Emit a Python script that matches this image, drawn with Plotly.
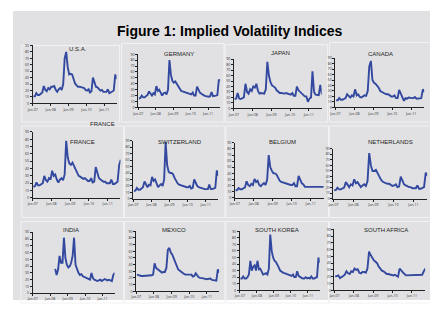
import plotly.graph_objects as go

# page body adds an 8px margin; figure sized to fit the 438x309 window
OFF = 8
W, H = 430, 301

# Monthly dates Jan-2007 .. Sep-2011
dates = [f"{y}-{m:02d}-15" for y in range(2007, 2012) for m in range(1, 13)][:57]

usa = [11, 11, 16, 13, 13, 15, 17, 27, 21, 19, 24, 22,
       26, 26, 27, 21, 18, 22, 24, 21, 30, 70, 80, 57,
       45, 46, 45, 38, 31, 28, 26, 26, 25, 25, 24, 21,
       20, 22, 17, 19, 40, 33, 26, 25, 23, 20, 21, 18,
       18, 18, 22, 16, 17, 18, 20, 45, 38]
germany = [15, 16, 20, 17, 17, 19, 21, 27, 22, 20, 24, 22,
           36, 28, 30, 23, 20, 24, 25, 22, 30, 80, 55, 45,
           42, 44, 40, 35, 30, 28, 27, 26, 25, 25, 24, 22,
           22, 25, 20, 20, 35, 30, 25, 23, 21, 20, 19, 18,
           18, 19, 26, 19, 19, 20, 21, 47, 45]
japan = [17, 18, 28, 18, 17, 18, 20, 45, 30, 27, 35, 32,
         40, 38, 45, 32, 27, 28, 28, 27, 35, 85, 60, 48,
         42, 40, 38, 33, 30, 28, 28, 27, 27, 28, 27, 25,
         25, 28, 23, 23, 40, 33, 30, 27, 25, 22, 22, 12,
         18, 20, 68, 30, 25, 24, 24, 43, 25]
canada = [13, 13, 17, 14, 14, 15, 17, 24, 20, 18, 22, 20,
          33, 22, 24, 19, 18, 20, 22, 21, 30, 75, 85, 50,
          45, 43, 40, 36, 30, 28, 27, 25, 24, 24, 22, 20,
          20, 22, 17, 17, 32, 25, 18, 12, 17, 16, 18, 17,
          17, 17, 19, 16, 16, 17, 17, 33, 28]
france = [15, 16, 21, 17, 17, 18, 20, 30, 24, 22, 27, 25,
          37, 30, 32, 25, 21, 25, 27, 24, 32, 78, 55, 47,
          45, 48, 44, 38, 33, 30, 29, 28, 26, 27, 25, 23,
          23, 27, 21, 22, 42, 33, 27, 25, 23, 22, 22, 20,
          20, 20, 25, 19, 19, 21, 22, 45, 52]
switzerland = [12, 13, 17, 14, 14, 16, 18, 27, 21, 18, 22, 21,
               34, 28, 30, 22, 18, 21, 23, 20, 30, 88, 52, 42,
               40, 40, 38, 32, 27, 24, 22, 21, 20, 20, 19, 18,
               18, 20, 16, 17, 30, 24, 20, 18, 17, 16, 16, 15,
               15, 15, 22, 15, 15, 16, 17, 44, 36]
belgium = [12, 13, 16, 14, 14, 15, 17, 27, 21, 19, 23, 21,
           31, 26, 28, 21, 19, 22, 24, 21, 30, 70, 50, 44,
           40, 40, 38, 33, 28, 26, 25, 24, 23, 23, 22, 21,
           21, 24, 19, 19, 36, 28, 24, 22, 18, 18, 18, 18,
           18, 18, 18, 18, 18, 18, 18, 18, 18]
netherlands = [15, 16, 20, 17, 17, 18, 20, 30, 24, 21, 26, 24,
               35, 28, 30, 24, 21, 24, 26, 23, 32, 82, 60, 50,
               50, 52, 46, 40, 35, 31, 29, 28, 27, 27, 25, 23,
               24, 26, 21, 22, 40, 31, 26, 24, 22, 21, 21, 19,
               19, 19, 24, 18, 18, 19, 21, 47, 42]
india = [None] * 12 + \
        [None, None, None, 36, 27, 35, 55, 45, 45, 82, 52, 42,
         38, 40, 45, 55, 82, 42, 35, 30, 27, 28, 25, 24,
         23, 22, 20, 20, 30, 22, 20, 19, 18, 19, 20, 18,
         20, 21, 20, 19, 20, 19, 18, 27, 30]
mexico = [25, 24, 24, 23, 23, 23, 24, 24, 23, 24, 24, 25,
          42, 35, 33, 31, 30, 28, 29, 29, 35, 62, 65, 58,
          55, 50, 45, 38, 33, 31, 29, 28, 26, 25, 25, 24,
          24, 25, 22, 23, 27, 23, 21, 20, 20, 19, 19, 18,
          18, 18, 19, 17, 17, 16, 16, 33, 28]
south_korea = [18, 18, 21, 18, 18, 20, 24, 45, 30, 36, 38, 30,
               45, 32, 33, 27, 24, 25, 26, 24, 33, 85, 60, 50,
               45, 43, 40, 35, 30, 28, 27, 26, 25, 25, 24, 22,
               22, 24, 20, 20, 29, 22, 20, 19, 18, 18, 20, 18,
               19, 18, 21, 18, 18, 19, 20, 50, 42]
south_africa = [20, 21, 22, 18, 19, 21, 23, 28, 25, 24, 28, 27,
                32, 30, 31, 26, 25, 27, 27, 26, 32, 57, 52, 47,
                44, 42, 40, 35, 31, 29, 28, 26, 24, 24, 23, 23,
                22, 23, 21, 20, 32, 29, 26, 24, 22, 22, 23, 22,
                22, 22, 23, 22, 22, 22, 23, 28, 32]

names = ["U.S.A.", "GERMANY", "JAPAN", "CANADA",
         "FRANCE", "SWITZERLAND", "BELGIUM", "NETHERLANDS",
         "INDIA", "MEXICO", "SOUTH KOREA", "SOUTH AFRICA"]
series = [usa, germany, japan, canada, france, switzerland, belgium,
          netherlands, india, mexico, south_korea, south_africa]

tick_dates = ["2007-01-01", "2008-01-01", "2009-01-01", "2010-01-01", "2011-01-01"]
tick_labels = ["Jan-07", "Jan-08", "Jan-09", "Jan-10", "Jan-11"]
y_ticks = list(range(0, 100, 10))

# plot areas in window pixels: x0, x1, ytop, ybottom
areas = [(27, 112, 43, 102), (134, 217, 52, 106), (231, 320, 57, 107), (334, 424, 56, 106),
         (27, 116, 131, 198), (129, 215, 140, 199), (232, 322, 142, 198), (332, 427, 148, 199),
         (27, 110, 233, 295), (132, 216, 232, 293), (237, 318, 232, 292), (333, 425, 230, 292)]
# title positions in window pixels
title_pos = [(73, 47), (175, 52), (278, 51), (380, 52),
             (77, 141), (176, 141), (280, 141), (390, 141),
             (66, 231), (170, 231), (275, 231), (385, 231)]
# panel boxes in window pixels
boxes = [(16, 115, 43, 121), (117, 221, 41, 121), (222, 326, 42, 121), (328, 432, 40, 121),
         (16, 119, 125, 218), (120, 222, 125, 218), (223, 327, 125, 218), (328, 432, 125, 218),
         (15, 119, 222, 305), (120, 222, 222, 305), (223, 327, 222, 305), (328, 432, 222, 305)]

BG = "#e1e1e3"
LINE = "#33489f"

fig = go.Figure()
layout = dict(width=W, height=H, margin=dict(l=0, r=0, t=0, b=0),
              paper_bgcolor="white", plot_bgcolor=BG, showlegend=False)


def px(x):
    return (x - OFF) / W


def py(y):
    return 1 - (y - OFF) / H


shapes = [dict(type="rect", xref="paper", yref="paper", x0=px(7), x1=px(432), y0=py(302), y1=py(8),
               fillcolor=BG, line=dict(width=0), layer="below")]
for (bx0, bx1, by0, by1) in boxes:
    shapes.append(dict(type="rect", xref="paper", yref="paper", x0=px(bx0), x1=px(bx1),
                       y0=py(by1), y1=py(by0), fillcolor="rgba(0,0,0,0)",
                       line=dict(color="#f2f2f4", width=1), layer="below"))

annotations = [dict(text="<b>Figure 1: Implied Volatility Indices</b>", x=px(227), y=py(28),
                    xref="paper", yref="paper", showarrow=False, xanchor="center", yanchor="middle",
                    font=dict(family="Liberation Sans, Arial", size=14, color="black"))]
annotations.append(dict(text="FRANCE", x=px(98), y=py(123), xref="paper", yref="paper", showarrow=False,
                        xanchor="center", yanchor="middle",
                        font=dict(family="Liberation Sans, Arial", size=6, color="#222222")))

for i, (name, vals) in enumerate(zip(names, series)):
    k = "" if i == 0 else str(i + 1)
    x0, x1, yt, yb = areas[i]
    fig.add_trace(go.Scatter(x=dates, y=vals, mode="lines", xaxis="x" + k, yaxis="y" + k,
                             line=dict(color=LINE, width=1.9), connectgaps=False))
    layout["xaxis" + k] = dict(domain=[px(x0), px(x1)], anchor="y" + k, type="date",
                               range=["2007-01-01", "2011-09-10"], tickvals=tick_dates,
                               ticktext=tick_labels, tickfont=dict(size=3.5, color="#333333"),
                               showgrid=False, zeroline=False, showline=True, linecolor="#222222",
                               linewidth=1, ticks="outside", ticklen=2, tickcolor="#222222")
    layout["yaxis" + k] = dict(domain=[py(yb), py(yt)], anchor="x" + k, range=[0, 90],
                               tickvals=y_ticks, tickfont=dict(size=3.5, color="#333333"),
                               showgrid=False, zeroline=False, showline=True, linecolor="#222222",
                               linewidth=1, ticks="outside", ticklen=2, tickcolor="#222222")
    tx, ty = title_pos[i]
    annotations.append(dict(text=name, x=px(tx), y=py(ty), xref="paper", yref="paper",
                            showarrow=False, xanchor="center", yanchor="middle",
                            font=dict(family="Liberation Sans, Arial", size=6, color="#222222")))

layout["shapes"] = shapes
layout["annotations"] = annotations
fig.update_layout(**layout)
fig.write_html("out.html")
